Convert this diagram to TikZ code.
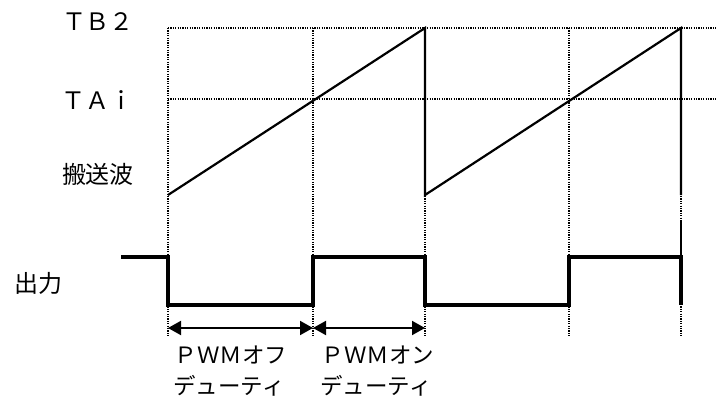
\documentclass[tikz,border=0pt]{standalone}
\usepackage{fontspec}
\newfontfamily\jp{Noto Sans CJK JP}
\usetikzlibrary{arrows.meta}
\begin{document}
\begin{tikzpicture}[x=1pt,y=-1pt,
  guide/.style={line width=1.2pt,dash pattern=on 1.2pt off 1.2pt},
  saw/.style={line width=2.2pt},
  outwave/.style={line width=4.5pt,line join=miter},
  duty/.style={line width=2pt,{Triangle[length=13pt,width=14pt]}-{Triangle[length=13pt,width=14pt]}},
  lab/.style={font=\jp\fontsize{24}{26}\selectfont,inner sep=0pt},
  small/.style={font=\jp\fontsize{22.5}{24}\selectfont,inner sep=0pt}]
\useasboundingbox (0,0) rectangle (716,399);
% grid coordinates
\foreach \n/\x in {a/168,b/313,c/425,d/569,e/681}{
  \coordinate (\n top) at (\x,28);
  \coordinate (\n mid) at (\x,99);
  \coordinate (\n low) at (\x,195);
  \coordinate (\n hi) at (\x,257);
  \coordinate (\n lo) at (\x,305);
  \coordinate (\n arr) at (\x,328);
  \coordinate (\n bot) at (\x,337);
}
\coordinate (rtop) at (716,28);
\coordinate (rmid) at (716,99);
\coordinate (start) at (121,257);
\coordinate (eextra) at (681,220);
% guides
\draw[guide] (atop) -- (rtop);
\draw[guide] (amid) -- (rmid);
\foreach \n in {a,b,c,d,e}{\draw[guide] (\n top) -- (\n bot);}
% sawtooth carrier
\draw[saw] (alow) -- (ctop) -- (clow) -- (etop) -- (elow);
\draw[line width=1.4pt] (eextra) -- (ehi);
% output
\draw[outwave] (start) -- (ahi) -- (alo) -- (blo) -- (bhi) -- (chi) -- (clo) -- (dlo) -- (dhi) -- (ehi) -- (elo);
% duty arrows
\draw[duty] (aarr) -- (barr);
\draw[duty] (barr) -- (carr);
% labels
\node[lab] (tb2) at (98,22) {ＴＢ２};
\node[lab] (tai) at (97,100) {ＴＡｉ};
\node[lab] (carrier) at (98,174) {搬送波};
\node[lab] (output) at (38,283) {出力};
\node[small] (off1) at (231,355) {ＰＷＭオフ};
\node[small] (off2) at (229,386) {デューティ};
\node[small] (on1) at (378,355) {ＰＷＭオン};
\node[small] (on2) at (376,386) {デューティ};
\end{tikzpicture}
\end{document}
